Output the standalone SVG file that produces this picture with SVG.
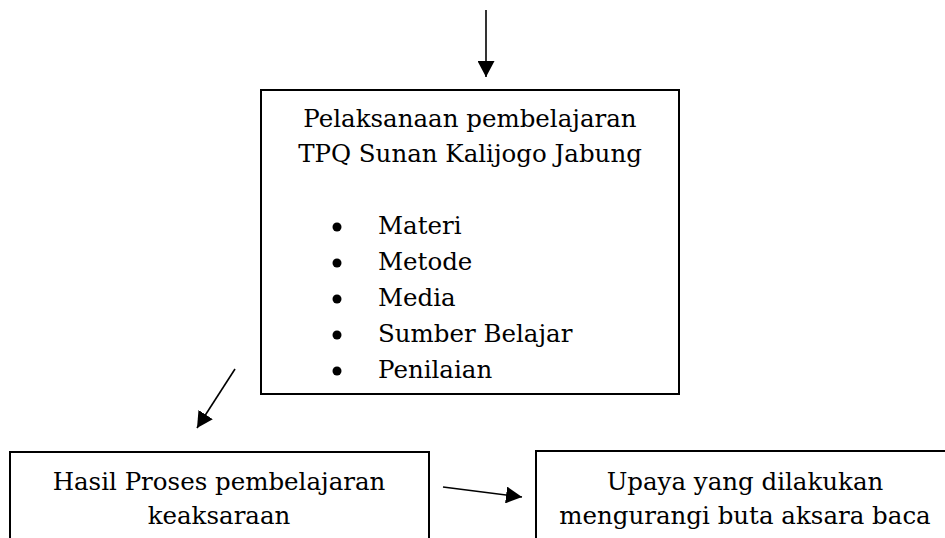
<svg xmlns="http://www.w3.org/2000/svg" width="945" height="538" viewBox="0 0 945 538">
<style>
.box{fill:#fff;stroke:#000;stroke-width:2}
.t{font-family:"DejaVu Serif","Liberation Serif",serif;font-size:24.5px;fill:#000}
.c{text-anchor:middle}
.conn{stroke:#000;stroke-width:1.6;fill:none;marker-end:url(#ah)}
</style>
<defs>
<marker id="ah" markerUnits="userSpaceOnUse" markerWidth="17" markerHeight="17" refX="16" refY="8.5" orient="auto" viewBox="0 0 17 17">
<path d="M0,0 L16,8.5 L0,17 z" fill="#000"/>
</marker>
</defs>
<rect width="945" height="538" fill="#fff"/>
<g id="connectors">
<line class="conn" x1="486" y1="10" x2="486" y2="77"/>
<line class="conn" x1="235" y1="369" x2="197" y2="428"/>
<line class="conn" x1="443" y1="487" x2="522" y2="497"/>
</g>
<g id="pelaksanaan">
<rect class="box" x="261" y="90" width="418" height="304"/>
<text class="t c" x="470" y="127">Pelaksanaan pembelajaran</text>
<text class="t c" x="470" y="162">TPQ Sunan Kalijogo Jabung</text>
<circle cx="337" cy="227" r="4.5"/>
<circle cx="337" cy="263" r="4.5"/>
<circle cx="337" cy="299" r="4.5"/>
<circle cx="337" cy="335" r="4.5"/>
<circle cx="337" cy="371" r="4.5"/>
<text class="t" x="378" y="234">Materi</text>
<text class="t" x="378" y="270">Metode</text>
<text class="t" x="378" y="306">Media</text>
<text class="t" x="378" y="342">Sumber Belajar</text>
<text class="t" x="378" y="378">Penilaian</text>
</g>
<g id="hasil">
<rect class="box" x="10" y="452" width="419" height="100"/>
<text class="t c" x="219" y="490">Hasil Proses pembelajaran</text>
<text class="t c" x="219" y="524">keaksaraan</text>
</g>
<g id="upaya">
<rect class="box" x="536" y="451" width="420" height="100"/>
<text class="t c" x="745" y="490">Upaya yang dilakukan</text>
<text class="t c" x="745" y="524">mengurangi buta aksara baca</text>
</g>
</svg>
